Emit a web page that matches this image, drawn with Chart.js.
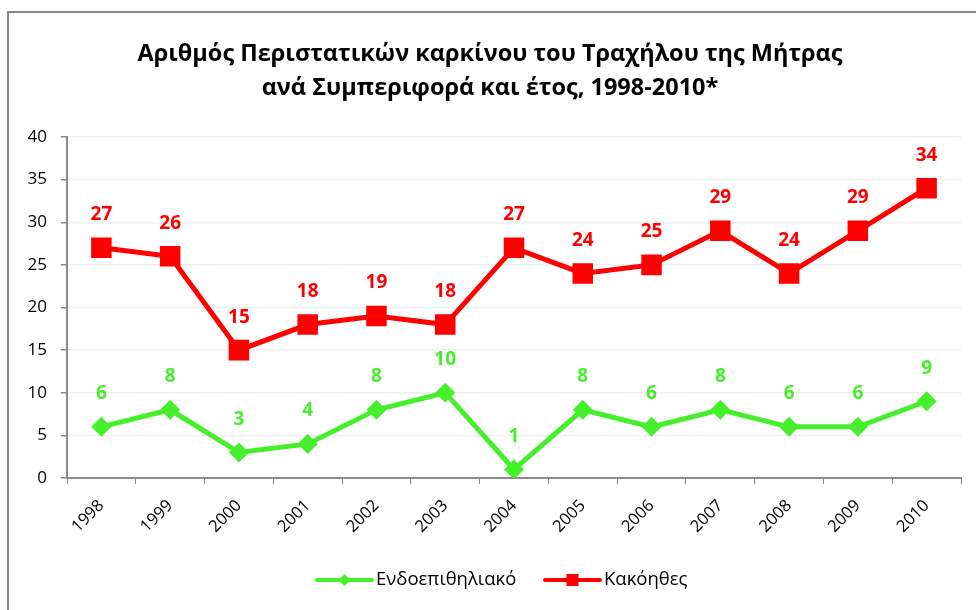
<!DOCTYPE html>
<html>
<head>
<meta charset="utf-8">
<script src="https://cdn.jsdelivr.net/npm/chart.js@4.4.1/dist/chart.umd.min.js"></script>
<style>
  html, body { margin: 0; padding: 0; background: #fff; overflow: hidden; }
  #wrap { position: relative; width: 976px; height: 610px; }
  #frame { position: absolute; left: 7px; top: 11px; width: 1000px; height: 640px; border: 2px solid #8a8a8a; box-sizing: border-box; pointer-events: none; }
  canvas { position: absolute; left: 0; top: 0; }
</style>
</head>
<body>
<div id="wrap">
  <canvas id="c" width="976" height="610"></canvas>
  <div id="frame"></div>
</div>
<script>
const years = ['1998','1999','2000','2001','2002','2003','2004','2005','2006','2007','2008','2009','2010'];
const endoepithelial = [6, 8, 3, 4, 8, 10, 1, 8, 6, 8, 6, 6, 9];
const malignant = [27, 26, 15, 18, 19, 18, 27, 24, 25, 29, 24, 29, 34];
const seriesNames = ['Ενδοεπιθηλιακό', 'Κακόηθες'];
const titleLines = ['Αριθμός Περιστατικών καρκίνου του Τραχήλου της Μήτρας', 'ανά Συμπεριφορά και έτος, 1998-2010*'];
const yTicks = { min: 0, max: 40, step: 5 };

const GREEN = '#46ef2b';
const RED = '#ff0000';
const FONT = "'Open Sans', 'Noto Sans', sans-serif";

const labelsPlugin = {
  id: 'customDecor',
  afterDatasetsDraw(chart) {
    const ctx = chart.ctx;
    ctx.save();
    ctx.font = "bold 19px " + FONT;
    ctx.textAlign = 'center';
    ctx.textBaseline = 'middle';
    chart.data.datasets.forEach((ds, i) => {
      const meta = chart.getDatasetMeta(i);
      ctx.fillStyle = ds.borderColor;
      meta.data.forEach((pt, j) => {
        ctx.fillText(String(ds.data[j]), pt.x, pt.y - 33);
      });
    });
    ctx.restore();
  },
  afterDraw(chart) {
    const ctx = chart.ctx;
    ctx.save();
    // title
    ctx.fillStyle = '#000';
    ctx.font = "bold 23.5px " + FONT;
    ctx.textAlign = 'center';
    ctx.textBaseline = 'alphabetic';
    ctx.fillText(titleLines[0], 490, 61);
    ctx.fillText(titleLines[1], 490, 95);
    // legend
    const items = [
      { name: seriesNames[0], color: GREEN, x: 317, style: 'diamond' },
      { name: seriesNames[1], color: RED, x: 545, style: 'square' }
    ];
    const ly = 580;
    items.forEach(it => {
      ctx.strokeStyle = it.color;
      ctx.lineWidth = 4;
      ctx.lineCap = 'round';
      ctx.beginPath();
      ctx.moveTo(it.x, ly);
      ctx.lineTo(it.x + 55, ly);
      ctx.stroke();
      ctx.fillStyle = it.color;
      const cx = it.x + 27.5;
      if (it.style === 'diamond') {
        ctx.beginPath();
        ctx.moveTo(cx, ly - 6); ctx.lineTo(cx + 6, ly); ctx.lineTo(cx, ly + 6); ctx.lineTo(cx - 6, ly);
        ctx.closePath(); ctx.fill();
      } else {
        ctx.fillRect(cx - 6, ly - 6, 12, 12);
      }
      ctx.fillStyle = '#000';
      ctx.font = "18.5px " + FONT;
      ctx.textAlign = 'left';
      ctx.textBaseline = 'middle';
      ctx.fillText(it.name, it.x + 59, ly);
    });
    ctx.restore();
  }
};

new Chart(document.getElementById('c'), {
  type: 'line',
  data: {
    labels: years,
    datasets: [
      {
        label: seriesNames[0], data: endoepithelial,
        borderColor: GREEN, backgroundColor: GREEN,
        borderWidth: 5, pointStyle: 'rectRot', pointRadius: 10, pointHoverRadius: 10,
        pointBorderWidth: 0, tension: 0
      },
      {
        label: seriesNames[1], data: malignant,
        borderColor: RED, backgroundColor: RED,
        borderWidth: 5, pointStyle: 'rect', pointRadius: 14.5, pointHoverRadius: 14.5,
        pointBorderWidth: 0, tension: 0
      }
    ]
  },
  options: {
    responsive: false,
    animation: false,
    events: [],
    layout: { padding: { top: 137, right: 15, bottom: 62, left: 0 } },
    plugins: { legend: { display: false }, title: { display: false }, tooltip: { enabled: false } },
    scales: {
      x: {
        offset: true,
        grid: { offset: true, drawOnChartArea: false, tickLength: 6, tickColor: '#8a8a8a', color: '#8a8a8a' },
        border: { color: '#8a8a8a', width: 2 },
        ticks: { minRotation: 45, maxRotation: 45, padding: 12, color: '#000', font: { family: FONT, size: 16.5 } },
        afterFit(s) { s.height = 70; }
      },
      y: {
        min: yTicks.min, max: yTicks.max,
        grid: { color: '#efefef', lineWidth: 1.5, tickLength: 6, tickColor: '#8a8a8a' },
        border: { color: '#8a8a8a', width: 2 },
        ticks: { stepSize: yTicks.step, padding: 14, color: '#000', font: { family: FONT, size: 17 } },
        afterFit(s) { s.width = 67; }
      }
    }
  },
  plugins: [labelsPlugin]
});
</script>
</body>
</html>
